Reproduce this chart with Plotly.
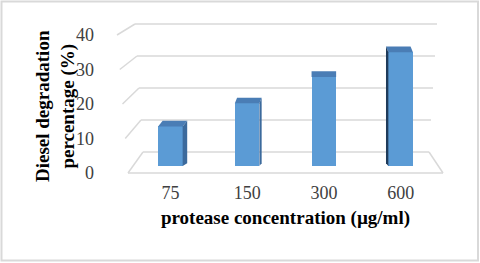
import plotly.graph_objects as go

categories = ["75", "150", "300", "600"]
degradation = [12, 19, 27, 34.5]
y_ticks = [0, 10, 20, 30, 40]

W, H = 480, 263
ML, MR, MT, MB = 0, 41, 20, 83
PW = W - ML - MR
PH = H - MT - MB

def px_to_paper_x(px):
    return (px - ML) / PW

def px_to_paper_y(py):
    return (H - MB - py) / PH

def axis_range(zero_px, px_per_unit):
    r0 = -((H - MB) - zero_px) / px_per_unit
    return [r0, r0 + PH / px_per_unit]

bar_range = axis_range(166, 3.3)     # bars (mid depth)
back_range = axis_range(152, 3.2)    # back wall grid
front_range = axis_range(173, 3.45)  # side-wall front edge / tick labels

def val_to_paper(v, rng):
    return (v - rng[0]) / (rng[1] - rng[0])

x0_px, x1_px = 132, 439
xidx = list(range(len(categories)))
bw = 0.32

fig = go.Figure()
fig.add_trace(go.Bar(
    x=xidx, y=degradation, width=bw,
    marker=dict(color="#5B9BD5", line=dict(width=0)),
    xaxis="x", yaxis="y", showlegend=False, hoverinfo="skip",
))

shapes = []
grid_col = "#D9D9D9"
n = len(y_ticks)
for i, v in enumerate(y_ticks):
    t = i / (n - 1)
    xf = 128 - 11 * t
    xb = 143 - 8 * t
    xr = 429 + 8 * t
    yf = val_to_paper(v, front_range)
    yb = val_to_paper(v, back_range)
    shapes.append(dict(type="line", xref="paper", yref="paper",
                       x0=px_to_paper_x(xf), y0=yf, x1=px_to_paper_x(xb), y1=yb,
                       line=dict(color=grid_col, width=1.5), layer="below"))
    shapes.append(dict(type="line", xref="paper", yref="paper",
                       x0=px_to_paper_x(xb), y0=yb, x1=px_to_paper_x(xr), y1=yb,
                       line=dict(color=grid_col, width=1.5), layer="below"))
# front floor edge and right floor edge
y0f = val_to_paper(0, front_range)
y0b = val_to_paper(0, back_range)
shapes.append(dict(type="line", xref="paper", yref="paper",
                   x0=px_to_paper_x(128), y0=y0f, x1=px_to_paper_x(443), y1=y0f,
                   line=dict(color=grid_col, width=1.5), layer="below"))
shapes.append(dict(type="line", xref="paper", yref="paper",
                   x0=px_to_paper_x(443), y0=y0f, x1=px_to_paper_x(429), y1=y0b,
                   line=dict(color=grid_col, width=1.5), layer="below"))

# 3D faces of bars, derived from data values
dy = 1.7  # depth offset in value units
vp = 322  # vanishing x in px
unit_px = (x1_px - x0_px) / 4.0
for i, v in enumerate(degradation):
    xc_px = x0_px + (i + 0.5) * unit_px
    dx = (vp - xc_px) * 0.03 / unit_px
    xl, xr_ = i - bw / 2, i + bw / 2
    top = f"M {xl},{v} L {xr_},{v} L {xr_+dx},{v+dy} L {xl+dx},{v+dy} Z"
    shapes.append(dict(type="path", xref="x", yref="y", path=top,
                       fillcolor="#4A7DB5", line=dict(width=0), layer="above"))
    if dx > 0.002:
        side = f"M {xr_},{0} L {xr_},{v} L {xr_+dx},{v+dy} L {xr_+dx},{dy*0.5} Z"
        shapes.append(dict(type="path", xref="x", yref="y", path=side,
                           fillcolor="#3C6A9C", line=dict(width=0), layer="above"))
    elif dx < -0.002:
        side = f"M {xl},{0} L {xl},{v} L {xl+dx},{v+dy} L {xl+dx},{dy*0.5} Z"
        shapes.append(dict(type="path", xref="x", yref="y", path=side,
                           fillcolor="#1F3B5A", line=dict(width=0), layer="above"))

# outer border
shapes.append(dict(type="rect", xref="paper", yref="paper",
                   x0=px_to_paper_x(1.5), x1=px_to_paper_x(478),
                   y0=px_to_paper_y(260.5), y1=px_to_paper_y(1.5),
                   line=dict(color="#D9D9D9", width=2), fillcolor="rgba(0,0,0,0)",
                   layer="above"))

font_serif = "Liberation Serif, Times New Roman, serif"

fig.update_layout(
    width=W, height=H,
    margin=dict(l=ML, r=MR, t=MT, b=MB, pad=0),
    paper_bgcolor="white", plot_bgcolor="rgba(0,0,0,0)",
    font=dict(family=font_serif, color="#404040", size=18),
    xaxis=dict(domain=[px_to_paper_x(x0_px), px_to_paper_x(x1_px)],
               range=[-0.5, 3.5], tickmode="array", tickvals=xidx, ticktext=categories,
               showgrid=False, zeroline=False, showline=False,
               ticks="", tickfont=dict(size=18, color="#404040"),
               title=dict(text="<b>protease concentration (µg/ml)</b>",
                          font=dict(size=19, color="#000000"), standoff=8)),
    yaxis=dict(range=bar_range, visible=False, domain=[0, 1]),
    yaxis3=dict(range=front_range, overlaying="y", anchor="free",
                position=px_to_paper_x(94), tickmode="array", tickvals=y_ticks,
                showgrid=False, zeroline=False, showline=False, ticks="",
                tickfont=dict(size=18, color="#404040")),
    shapes=shapes,
    annotations=[dict(text="<b>Diesel degradation<br>percentage (%)</b>",
                      xref="paper", yref="paper",
                      x=px_to_paper_x(55), y=px_to_paper_y(106),
                      xanchor="center", yanchor="middle",
                      textangle=-90, showarrow=False,
                      font=dict(size=19, color="#000000", family=font_serif))],
    bargap=0,
)
fig.add_trace(go.Scatter(x=[None], y=[None], yaxis="y3", showlegend=False))

fig.write_html("out.html", config={"displayModeBar": False},
               post_script="document.body.style.margin='0';")
